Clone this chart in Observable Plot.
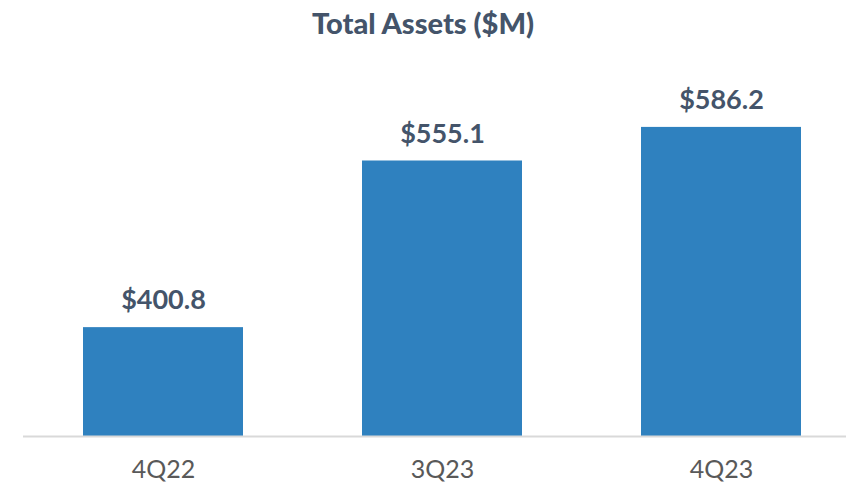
<!DOCTYPE html>
<html>
<head>
<meta charset="utf-8">
<script src="https://cdn.jsdelivr.net/npm/d3@7"></script>
<script src="https://cdn.jsdelivr.net/npm/@observablehq/plot@0.6"></script>
<style>
  body { margin: 0; background: #fff; font-family: Lato, "Open Sans", sans-serif; }
  #title { height: 46px; line-height: 46px; text-align: center; font-weight: 900; font-size: 29px; color: #44546A; }
  #chart svg { display: block; }
</style>
</head>
<body>
<div id="title">Total Assets ($M)</div>
<div id="chart"></div>
<script>
const quarters = ["4Q22", "3Q23", "4Q23"];
const totalAssets = [400.8, 555.1, 586.2];
const valueLabels = ["$400.8", "$555.1", "$586.2"];

const data = quarters.map((q, i) => ({quarter: q, value: totalAssets[i], label: valueLabels[i]}));

const chart = Plot.plot({
  width: 846,
  height: 445,
  marginLeft: 54,
  marginRight: 17,
  marginTop: 12,
  marginBottom: 55,
  style: {fontFamily: "Lato, 'Open Sans', sans-serif", background: "#fff"},
  x: {domain: quarters, paddingInner: 0.428, paddingOuter: 0.1, label: null},
  y: {domain: [300, 650], axis: null},
  marks: [
    Plot.barY(data, {x: "quarter", y1: 300, y2: "value", fill: "#2F81BF"}),
    Plot.ruleY([300], {stroke: "#D9D9D9", strokeWidth: 2, insetLeft: -31, insetRight: -17}),
    Plot.text(data, {x: "quarter", y: "value", text: "label", dy: -27, lineAnchor: "middle", fontSize: 27, fontWeight: "bold", fill: "#44546A"}),
    Plot.axisX({tickSize: 0, tickPadding: 24, fontSize: 25, color: "#595959", label: null})
  ]
});
document.getElementById("chart").appendChild(chart);
</script>
</body>
</html>
